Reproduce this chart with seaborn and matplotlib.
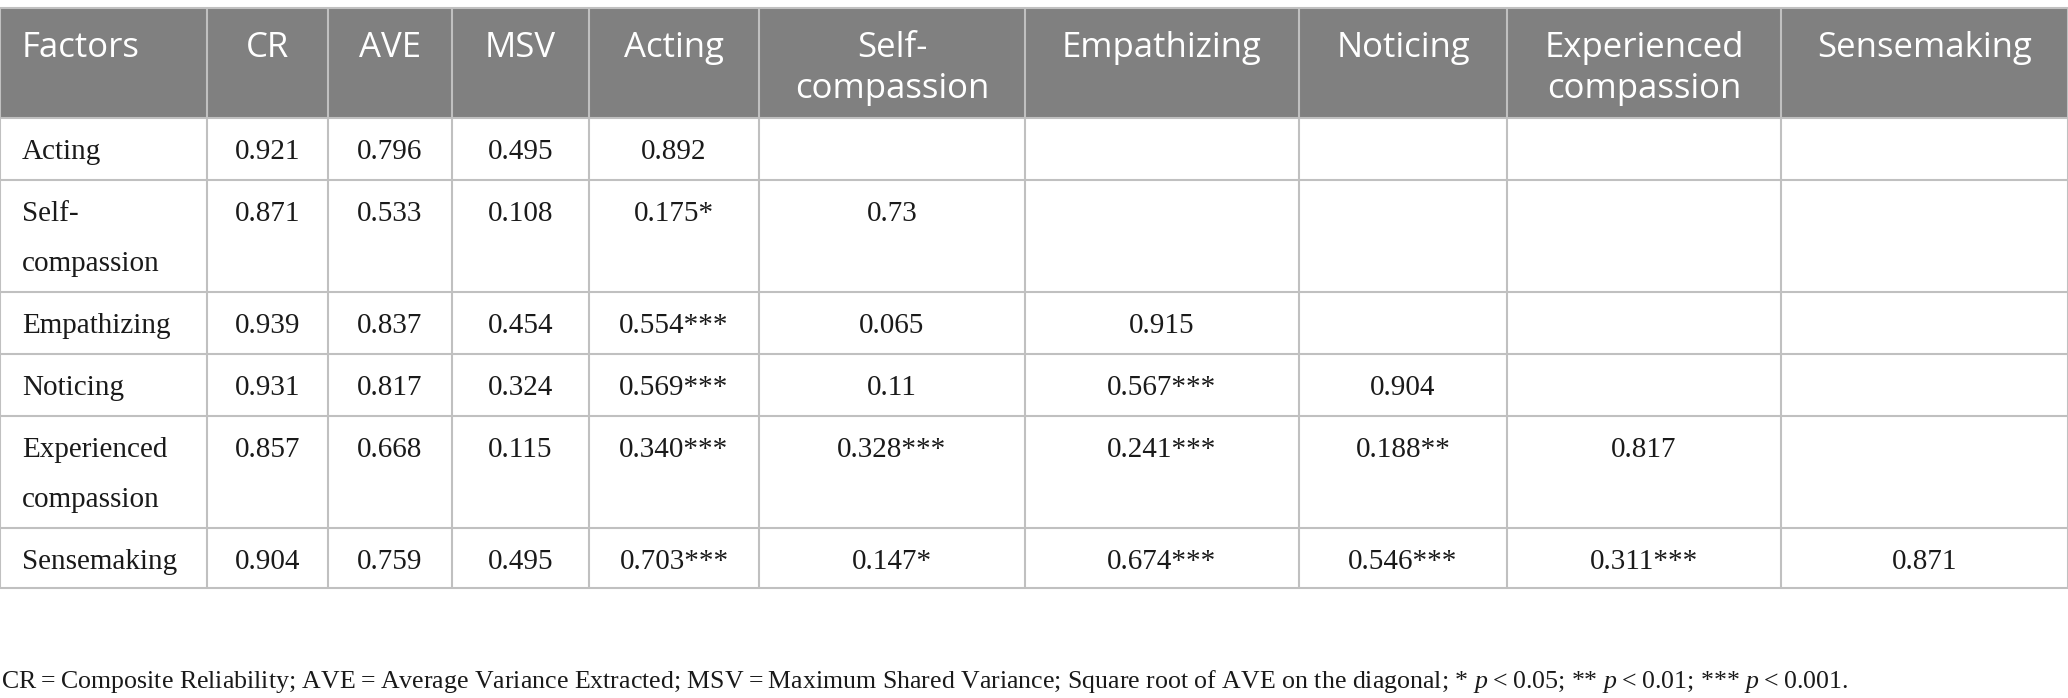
import matplotlib
matplotlib.use("Agg")
import matplotlib.pyplot as plt
import seaborn as sns

# table content
headers = ["Factors", "CR", "AVE", "MSV", "Acting", "Self-\ncompassion",
           "Empathizing", "Noticing", "Experienced\ncompassion", "Sensemaking"]
factors = ["Acting", "Self-\ncompassion", "Empathizing", "Noticing",
           "Experienced\ncompassion", "Sensemaking"]
cr = ["0.921", "0.871", "0.939", "0.931", "0.857", "0.904"]
ave = ["0.796", "0.533", "0.837", "0.817", "0.668", "0.759"]
msv = ["0.495", "0.108", "0.454", "0.324", "0.115", "0.495"]
corr = [
    ["0.892"],
    ["0.175*", "0.73"],
    ["0.554***", "0.065", "0.915"],
    ["0.569***", "0.11", "0.567***", "0.904"],
    ["0.340***", "0.328***", "0.241***", "0.188**", "0.817"],
    ["0.703***", "0.147*", "0.674***", "0.546***", "0.311***", "0.871"],
]
note = ("CR\u2009=\u2009Composite Reliability; AVE\u2009=\u2009Average Variance Extracted; "
        "MSV\u2009=\u2009Maximum Shared Variance; Square root of AVE on the diagonal; "
        "* $p$\u2009<\u20090.05; ** $p$\u2009<\u20090.01; *** $p$\u2009<\u20090.001.")

# layout (pixels)
W, H = 2068, 698
col_edges = [0, 207, 328, 452, 589, 759, 1025, 1299, 1507, 1781, 2068]
row_edges = [8, 118, 180, 292, 354, 416, 528, 588]
line_h = 50

sns.set_style("white")
plt.rcParams["mathtext.fontset"] = "custom"
plt.rcParams["mathtext.rm"] = "Liberation Serif"
plt.rcParams["mathtext.it"] = "Liberation Serif:italic"

head_font = dict(family=["Open Sans", "DejaVu Sans"], size=25, color="white")
body_font = dict(family=["Liberation Serif", "DejaVu Serif"], size=21, color="#1a1a1a")

fig = plt.figure(figsize=(W / 100, H / 100), dpi=100)
ax = fig.add_axes([0, 0, 1, 1])
ax.set_xlim(0, W)
ax.set_ylim(H, 0)
ax.axis("off")

ax.axhspan(row_edges[0], row_edges[1], color="#808080", lw=0)
ax.hlines(row_edges, 0, W, color="#c0c0c0", lw=1.5)
ax.vlines(col_edges, row_edges[0], row_edges[-1], color="#c0c0c0", lw=1.5)

centers = [(a + b) / 2 for a, b in zip(col_edges[:-1], col_edges[1:])]

# header
for j, h in enumerate(headers):
    for k, part in enumerate(h.split("\n")):
        y = 57 + k * 41
        if j == 0:
            ax.text(22, y, part, ha="left", va="baseline", **head_font)
        else:
            ax.text(centers[j], y, part, ha="center", va="baseline", **head_font)

# body
for i, name in enumerate(factors):
    top = row_edges[i + 1]
    base = top + 41
    for k, part in enumerate(name.split("\n")):
        ax.text(22, base + k * line_h, part, ha="left", va="baseline", **body_font)
    cells = [cr[i], ave[i], msv[i]] + corr[i]
    for j, val in enumerate(cells):
        ax.text(centers[j + 1], base, val, ha="center", va="baseline", **body_font)

ax.text(1, 688, note, ha="left", va="baseline",
        family=["Liberation Serif", "DejaVu Serif"], size=18.6, color="#1a1a1a")

fig.savefig("out.png", dpi=100)
